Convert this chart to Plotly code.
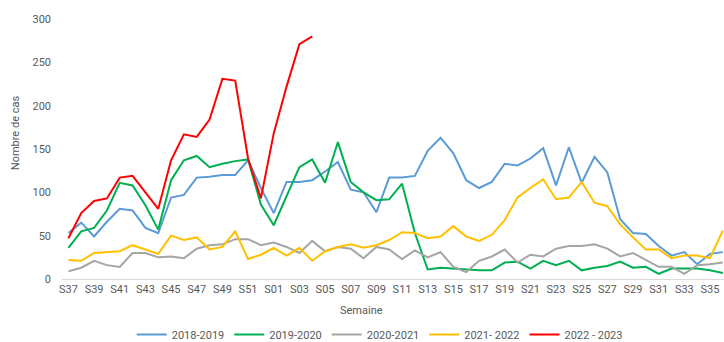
import plotly.graph_objects as go

# Weeks of the epidemiological season, S37 through S36 of the following year
weeks = [f"S{w:02d}" for w in list(range(37, 53)) + list(range(1, 37))]

s2018_2019 = [53, 65, 49, 66, 81, 79, 59, 53, 94, 97, 117, 118, 120, 120, 137, 105,
              76, 112, 112, 114, 124, 135, 103, 100, 77, 117, 117, 119, 148, 163, 145, 114,
              105, 112, 133, 131, 139, 151, 108, 152, 111, 141, 123, 69, 53, 52, 38, 27,
              31, 17, 29, 31]
s2019_2020 = [36, 55, 59, 79, 111, 108, 85, 57, 114, 137, 142, 129, 133, 136, 138, 86,
              62, 95, 129, 138, 111, 158, 112, 100, 91, 92, 110, 53, 11, 13, 12, 11,
              10, 10, 19, 20, 12, 21, 16, 21, 10, 13, 15, 20, 13, 14, 6, 12,
              12, 12, 10, 7]
s2020_2021 = [9, 13, 21, 16, 14, 30, 30, 25, 26, 24, 35, 39, 40, 46, 46, 39,
              42, 37, 30, 44, 32, 37, 35, 24, 37, 34, 23, 33, 25, 31, 14, 8,
              21, 26, 34, 19, 28, 26, 35, 38, 38, 40, 35, 26, 30, 22, 14, 14,
              6, 16, 17, 19]
s2021_2022 = [22, 21, 30, 31, 32, 39, 34, 29, 50, 45, 48, 34, 37, 55, 23, 28,
              36, 27, 36, 21, 32, 37, 40, 36, 39, 45, 54, 53, 47, 49, 61, 49,
              44, 51, 68, 94, 105, 115, 92, 94, 112, 88, 84, 63, 48, 34, 34, 24,
              27, 27, 24, 56]
s2022_2023 = [47, 76, 90, 93, 117, 119, 100, 81, 137, 167, 164, 184, 231, 229, 139, 93,
              168, 222, 271, 280]

series = [
    ("2018-2019", s2018_2019, "#5B9BD5"),
    ("2019-2020", s2019_2020, "#00B050"),
    ("2020-2021", s2020_2021, "#A5A5A5"),
    ("2021- 2022", s2021_2022, "#FFC000"),
    ("2022 - 2023", s2022_2023, "#FF0000"),
]

fig = go.Figure()
for name, values, color in series:
    fig.add_trace(go.Scatter(
        x=weeks[:len(values)], y=values, name=name, mode="lines",
        line=dict(color=color, width=2),
    ))

font_family = "Roboto"
tick_color = "#595959"

fig.update_layout(
    width=724, height=342,
    margin=dict(l=62, r=0, t=19, b=63),
    paper_bgcolor="white", plot_bgcolor="white",
    font=dict(family=font_family, size=11, color=tick_color),
    showlegend=True,
    legend=dict(
        orientation="h", x=0.48, xanchor="center",
        yref="container", y=0.022, yanchor="middle",
        font=dict(size=11, color=tick_color),
        itemwidth=30, tracegroupgap=0,
    ),
    xaxis=dict(
        type="category", categoryorder="array", categoryarray=weeks,
        range=[-0.5, 51.09],
        tickvals=weeks[::2], ticktext=weeks[::2],
        showgrid=False, zeroline=False,
        showline=True, linecolor="#D9D9D9", linewidth=1,
        ticks="", tickfont=dict(size=11, color=tick_color),
    ),
    yaxis=dict(
        range=[0, 300], tickvals=[0, 50, 100, 150, 200, 250, 300],
        showgrid=False, zeroline=False, showline=False,
        ticks="", tickfont=dict(size=11, color=tick_color),
        ticklabelstandoff=10,
    ),
    annotations=[
        dict(text="Semaine", xref="paper", yref="paper", x=0.453, y=-0.122,
             showarrow=False, font=dict(size=11, color=tick_color),
             xanchor="center", yanchor="middle"),
        dict(text="Nombre de cas", xref="paper", yref="paper", x=-0.069, y=0.562,
             showarrow=False, textangle=-90, font=dict(size=11, color=tick_color),
             xanchor="center", yanchor="middle"),
    ],
)

fig.write_html("out.html")
